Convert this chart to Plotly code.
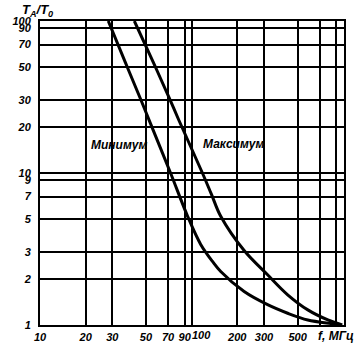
import plotly.graph_objects as go

# Data (log-log)
min_f = [28.2, 36.6, 45.9, 53.5, 72.6, 94.1, 114.8, 137.7, 155.6, 222, 317, 430, 584, 872, 940]
min_T = [100, 53.2, 30.9, 21.2, 10, 5.19, 3.39, 2.61, 2.25, 1.66, 1.36, 1.195, 1.079, 1.015, 1.0]
max_f = [41.9, 56, 71.5, 82, 117.8, 135, 155.6, 222, 317, 430, 584, 792, 985]
max_T = [100, 53.2, 30.9, 22.5, 10, 7.26, 5.19, 3.09, 2.14, 1.58, 1.257, 1.079, 1.0]

x_ticks = [10, 20, 30, 50, 70, 90, 100, 200, 300, 500, 700, 900, 1000]
x_text = ["10", "20", "30", "50", "70", "90", " ", "200", "300", "500", " ", " ", " "]
y_ticks = [1, 2, 3, 5, 7, 9, 10, 20, 30, 50, 70, 90, 100]
y_text = ["1", "2", "3", "5", "7", "9", "10", "20", "30", "50", "70", "90", "100"]

FONT = "Liberation Sans Narrow, Liberation Sans, Arial"
tfont = dict(family=FONT, size=11, color="black", style="italic", weight="bold")
lfont = dict(family=FONT, size=12, color="black", style="italic", weight="bold")

fig = go.Figure()
fig.add_trace(go.Scatter(x=min_f, y=min_T, mode="lines", name="Минимум",
                         line=dict(color="black", width=3, shape="spline", smoothing=1.0)))
fig.add_trace(go.Scatter(x=max_f, y=max_T, mode="lines", name="Максимум",
                         line=dict(color="black", width=3, shape="spline", smoothing=1.0)))

axis_common = dict(showgrid=True, gridcolor="black", gridwidth=1.5, zeroline=False,
                   showline=True, linecolor="black", linewidth=2, mirror=True,
                   ticks="", ticklen=0, tickfont=tfont, automargin=False)

fig.update_xaxes(type="log", range=[1, 3.005], tickvals=x_ticks, ticktext=x_text,
                 tickangle=0, ticklabelstandoff=1, **axis_common)
fig.update_yaxes(type="log", range=[0, 2.0], tickvals=y_ticks, ticktext=y_text,
                 ticklabelstandoff=5, **axis_common)

# curve labels (positions in log10 data coordinates)
fig.add_annotation(text="Минимум", x=1.518, y=1.185, xref="x", yref="y", showarrow=False,
                   font=lfont, xanchor="center", yanchor="middle")
fig.add_annotation(text="Максимум", x=2.276, y=1.19, xref="x", yref="y", showarrow=False,
                   font=lfont, xanchor="center", yanchor="middle")
# "100" tick label sits just right of the 90 label, as in the reference
fig.add_annotation(text="100", x=(201 - 40) / 304, y=-2 / 304, xref="paper", yref="paper",
                   showarrow=False, font=tfont, xanchor="center", yanchor="top")
fig.add_annotation(text="f, МГц", x=(336 - 40) / 304, y=-2 / 304, xref="paper", yref="paper",
                   showarrow=False, font=lfont, xanchor="center", yanchor="top")
fig.add_annotation(text="T<sub>A</sub>/T<sub>0</sub>", x=(37 - 40) / 304, y=1,
                   xref="paper", yref="paper", showarrow=False,
                   font=dict(family=FONT, size=13, color="black", style="italic", weight="bold"),
                   xanchor="center", yanchor="bottom")

fig.update_layout(width=361, height=347, margin=dict(l=40, r=17, t=21, b=22),
                  paper_bgcolor="white", plot_bgcolor="white", showlegend=False)

fig.write_html("out.html")
